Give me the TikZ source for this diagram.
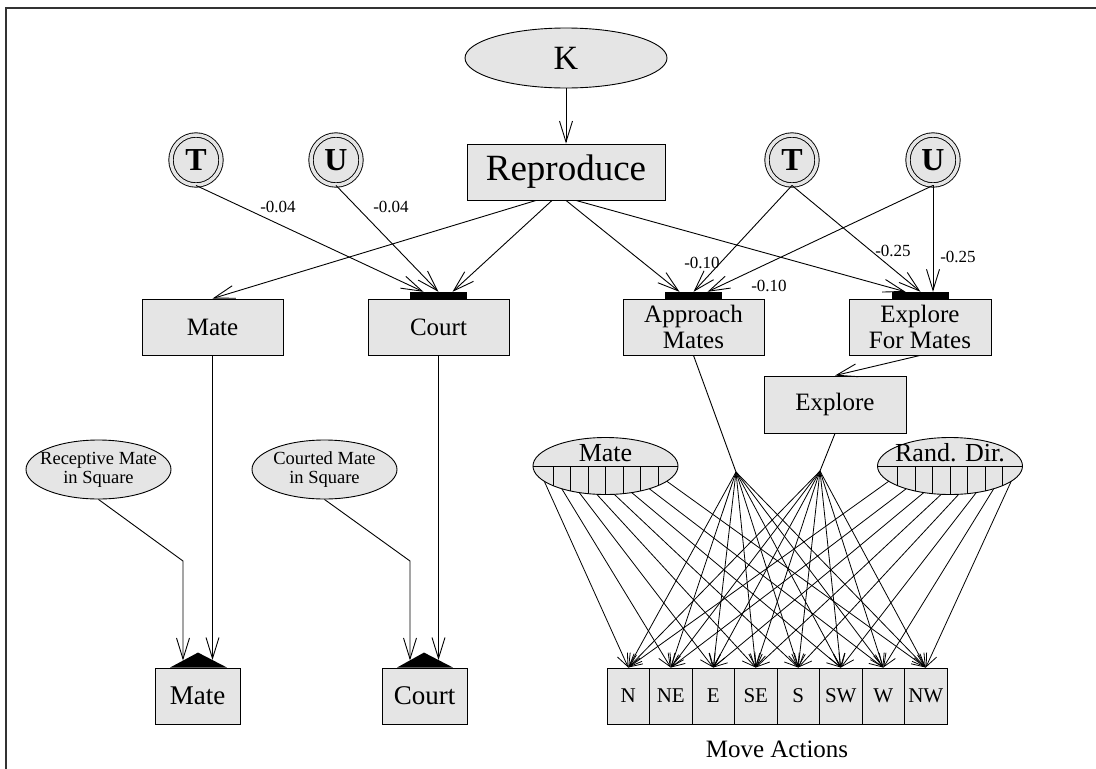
\documentclass[tikz,border=0pt]{standalone}
\usepackage{fontspec}
\setmainfont{Liberation Serif}
\usetikzlibrary{arrows.meta,shapes.geometric,calc}
\definecolor{ugray}{gray}{0.9}
\begin{document}
\begin{tikzpicture}[x=1pt,y=-1pt,
  box/.style={draw, fill=ugray, line width=0.9pt, inner sep=0pt, align=center, font=\fontsize{25}{26}\selectfont},
  oval/.style={ellipse, draw, fill=ugray, line width=0.9pt, inner sep=0pt, align=center},
  circ/.style={circle, draw, line width=0.9pt, double=ugray, double distance=3.5pt, fill=ugray,
    minimum size=50pt, inner sep=0pt, font=\fontsize{32}{32}\selectfont\bfseries},
  bar/.style={fill=black, inner sep=0pt, minimum width=57pt, minimum height=7pt},
  arr/.style={line width=0.9pt, -{Straight Barb[length=21pt,width=13pt]}},
  sarr/.style={line width=0.8pt, -{Straight Barb[length=13pt,width=11pt]}},
  plain/.style={line width=0.9pt},
  wt/.style={font=\fontsize{17}{17}\selectfont, inner sep=0pt},
  sens/.style={font=\fontsize{18.5}{19}\selectfont, inner sep=0pt, align=center},
]
\useasboundingbox (0,0) rectangle (1096,769);
% page frame (top and left edges)
\draw[line width=2pt, black!80] (6,769) -- (6,8) -- (1096,8);

% --- top level -------------------------------------------------------
\node[oval, minimum width=202pt, minimum height=60pt, font=\fontsize{34}{34}\selectfont] (k) at (566,58) {K};
\node[box, minimum width=198pt, minimum height=56pt, font=\fontsize{37}{37}\selectfont] (rep) at (566,172) {Reproduce};
\node[circ] (t1) at (196,160) {T};
\node[circ] (u1) at (336,160) {U};
\node[circ] (t2) at (792,160) {T};
\node[circ] (u2) at (933,160) {U};

% --- behaviour row ----------------------------------------------------
\node[box, minimum width=141pt, minimum height=56pt] (mate)  at (212.5,327) {Mate};
\node[box, minimum width=141pt, minimum height=56pt] (court) at (438.5,327) {Court};
\node[box, minimum width=141pt, minimum height=56pt] (appr)  at (693.5,327) {Approach\\Mates};
\node[box, minimum width=142pt, minimum height=56pt] (efm)   at (920,327)   {Explore\\For Mates};
\node[bar] (cbar) at (438.5,295.5) {};
\node[bar] (abar) at (693.5,295.5) {};
\node[bar] (ebar) at (920.5,295.5) {};
\node[box, minimum width=142pt, minimum height=57pt] (expl) at (835,404.5) {Explore};

% --- sensor ellipses --------------------------------------------------
\node[oval, minimum width=145pt, minimum height=57pt] (me) at (605.5,466) {};
\node[oval, minimum width=145pt, minimum height=57pt] (rd) at (950,466) {};
\foreach \e in {me,rd} {
  \draw[plain] (\e.west) -- (\e.east);
  \begin{scope}
    \clip (\e.center) ellipse [x radius=72.5, y radius=28.5];
    \foreach \d in {-52.5,-35,-17.5,0,17.5,35,52.5}
      \draw[plain] ($(\e.center)+(\d,0)$) -- ++(0,30);
  \end{scope}
  \foreach \dx/\dy [count=\i] in {-61.25/15.2,-43.75/22.7,-26.25/26.6,-8.75/28.3,8.75/28.3,26.25/26.6,43.75/22.7,61.25/15.2}
    \coordinate (\e\i) at ($(\e.center)+(\dx,\dy)$);
}
\node[anchor=base, font=\fontsize{26}{26}\selectfont, inner sep=0pt] (melab) at (605.5,461) {Mate};
\node[anchor=base, font=\fontsize{26}{26}\selectfont, inner sep=0pt] (rdlab) at (950,461) {Rand. Dir.};

% --- move actions -----------------------------------------------------
\foreach \lab [count=\i] in {N,NE,E,SE,S,SW,W,NW}
  \node[box, minimum width=42.5pt, minimum height=56pt, font=\fontsize{21}{21}\selectfont] (a\i) at ({628.25+42.5*(\i-1)},696) {\lab};
\node[font=\fontsize{25}{25}\selectfont, inner sep=0pt] (moveact) at (777,749) {Move Actions};

% --- primitive actions, left ------------------------------------------
\node[oval, minimum width=145pt, minimum height=59pt] (rec) at (98.5,469.5) {};
\node[sens] (rectxt) at (rec.center) {Receptive Mate\\in Square};
\node[oval, minimum width=145pt, minimum height=59pt] (crt) at (324.5,469.5) {};
\node[sens] (crttxt) at (crt.center) {Courted Mate\\in Square};
\node[box, minimum width=85pt, minimum height=56pt, font=\fontsize{27}{27}\selectfont] (bmate)  at (197.5,696) {Mate};
\node[box, minimum width=85pt, minimum height=56pt, font=\fontsize{27}{27}\selectfont] (bcourt) at (424.5,696) {Court};
\fill ($(bmate.north)+(-27.5,0)$) -- ++(28,-15) -- ++(29,15) -- cycle;
\fill ($(bcourt.north)+(-27.5,0)$) -- ++(27,-15) -- ++(29,15) -- cycle;

\coordinate (j1) at (736,472);
\coordinate (j2) at (820,471);
\coordinate (rbend) at (183,561);
\coordinate (cbend) at (410,561);
\coordinate (mtA) at (183,660.5);
\coordinate (mtB) at (212.5,660);
\coordinate (ctA) at (410,660.5);
\coordinate (ctB) at (438.5,660);

% --- connectors -------------------------------------------------------
\draw[arr] (k) -- (rep);
\draw[arr] (t1.south) -- ([xshift=-15pt]cbar.north);
\draw[arr] (u1.south) -- (cbar.north);
\draw[arr] ([xshift=-30pt]rep.south) -- (mate.north);
\draw[arr] ([xshift=-14pt]rep.south) -- ([xshift=14pt]cbar.north);
\draw[arr] (rep.south) -- ([xshift=-14pt]abar.north);
\draw[arr] ([xshift=10pt]rep.south) -- ([xshift=-15pt]ebar.north);
\draw[arr] (t2.south) -- (abar.north);
\draw[arr] (t2.south) -- (ebar.north);
\draw[arr] (u2.south) -- ([xshift=14pt]abar.north);
\draw[arr] (u2.south) -- ([xshift=12.5pt]ebar.north);
\draw[arr] (efm.south) -- (expl.north);
\draw[plain] (appr.south) -- (j1);
\draw[plain] (expl.south) -- (j2);

\draw[arr] (mate.south) -- (mtB);
\draw[arr] (court.south) -- (ctB);
\draw[arr] (rec.south) -- (rbend) -- (mtA);
\draw[arr] (crt.south) -- (cbend) -- (ctA);

\foreach \i in {1,...,8} {
  \draw[sarr] (me\i) -- (a\i.north);
  \draw[sarr] (rd\i) -- (a\i.north);
  \draw[sarr] (j1) -- (a\i.north);
  \draw[sarr] (j2) -- (a\i.north);
}

% --- weights ----------------------------------------------------------
\node[wt] (w1) at (278,207) {-0.04};
\node[wt] (w2) at (391,207) {-0.04};
\node[wt] (w3) at (702,263) {-0.10};
\node[wt] (w4) at (769,286) {-0.10};
\node[wt] (w5) at (893,251) {-0.25};
\node[wt] (w6) at (958,257) {-0.25};
\end{tikzpicture}
\end{document}
